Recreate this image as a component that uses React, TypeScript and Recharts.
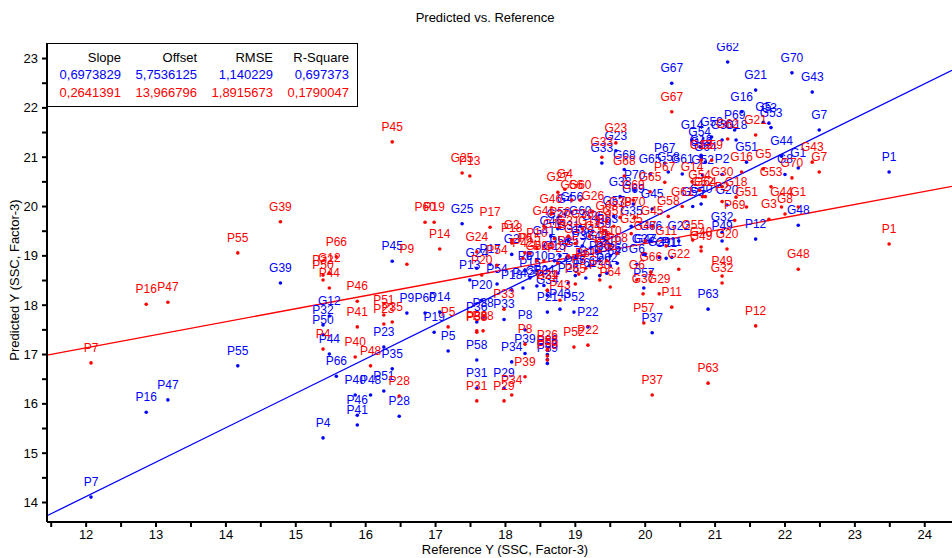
import React from "react";
import { ScatterChart, Scatter, XAxis, YAxis, ReferenceLine } from "recharts";

// sample names, reference values and the two model predictions
const names = [
  "P7", "P16", "P47", "P55", "G39", "P4", "P32", "P50", "G12", "P44", "P66", "P46", "P41", "P40", "P48",
  "P45", "P23", "P35", "P51", "P28", "P9", "P60", "P19", "P14", "P5", "G25", "P13", "P58", "P31", "P36",
  "P38", "P20", "P54", "P17", "G24", "P33", "P29", "P34", "P39", "P8", "P18", "G2", "P6", "G50", "P26",
  "P53", "P59", "P21", "P43", "P52", "P22", "P57", "P37", "P63", "P12", "G48", "P1", "P11", "G22", "G32",
  "P49", "G55", "G49", "G3", "G8", "G1", "G44", "G62", "G70", "G67", "G43", "G7", "G21", "G16", "G5",
  "G53", "P69", "P2", "G52", "G61", "G58", "G65", "P67", "P70", "G69", "G23", "G33", "G68", "G38", "G40",
  "G20", "G18", "G51", "G30", "G13", "G59", "G14", "G54", "G64", "G45", "G66", "G6", "G37", "G29", "G47",
  "G27", "G4", "G56", "G60", "G46", "P56", "G26", "G31", "G36", "G41", "G42", "G9", "G10", "G11", "G15",
  "G17", "G19", "G28", "G34", "G35", "G57", "G63", "P3", "P30", "P64", "P65", "P10", "P15", "P24", "P25",
  "P27", "P42", "P61", "P62", "P68",
];

const referenceY = [
  12.07, 12.86, 13.17, 14.17, 14.78, 15.39, 15.39, 15.39, 15.48, 15.48, 15.58, 15.88, 15.88, 15.85, 16.07,
  16.38, 16.26, 16.38, 16.26, 16.48, 16.59, 16.85, 16.98, 17.06, 17.18, 17.38, 17.49, 17.59, 17.59, 17.59,
  17.68, 17.66, 17.88, 17.78, 17.59, 17.98, 17.98, 18.09, 18.28, 18.28, 18.09, 18.09, 18.28, 18.45, 18.6,
  18.6, 18.6, 18.6, 18.78, 18.98, 19.18, 19.98, 20.1, 20.9, 21.58, 22.19, 23.49, 20.38, 20.48, 21.1,
  21.1, 20.68, 20.8, 21.77, 22.0, 22.19, 21.95, 21.18, 22.1, 20.38, 22.39, 22.49, 21.58, 21.38, 21.69,
  21.8, 21.28, 21.1, 20.82, 20.53, 20.33, 20.07, 20.28, 19.85, 19.83, 19.58, 19.38, 19.7, 19.64, 20.8,
  21.17, 21.3, 21.45, 21.1, 20.8, 20.95, 20.67, 20.78, 20.86, 20.1, 20.08, 19.88, 19.97, 20.2, 20.0,
  18.75, 18.85, 18.95, 19.07, 18.65, 18.78, 19.25, 18.9, 19.1, 18.55, 19.3, 19.4, 19.5, 20.3, 18.7,
  19.0, 19.2, 19.35, 18.6, 19.8, 19.55, 19.45, 19.05, 19.35, 19.5, 19.0, 18.45, 18.35, 18.55, 18.9,
  18.75, 18.25, 19.15, 19.45, 19.6,
];

const predictedA = [
  14.11, 15.83, 16.08, 16.77, 18.45, 15.31, 17.6, 17.4, 17.78, 17.01, 16.56, 15.77, 15.57, 16.18, 16.18,
  18.89, 17.15, 16.71, 16.26, 15.75, 17.84, 17.84, 17.45, 17.86, 17.07, 19.65, 18.51, 16.89, 16.32, 17.66,
  17.75, 18.1, 18.43, 18.83, 18.75, 17.71, 16.32, 16.85, 17.02, 17.5, 18.31, 19.03, 18.7, 18.39, 17.0,
  16.9, 16.82, 17.86, 17.92, 17.86, 17.56, 18.35, 17.44, 17.92, 19.34, 19.62, 20.7, 18.97, 19.3, 19.48,
  19.3, 20.0, 21.0, 21.69, 20.65, 20.78, 21.02, 22.93, 22.71, 22.5, 22.32, 21.55, 22.36, 21.92, 21.71,
  21.6, 21.55, 20.65, 20.64, 20.66, 20.7, 20.66, 20.88, 20.33, 20.05, 21.13, 20.88, 20.75, 20.2, 20.05,
  20.03, 21.35, 20.9, 21.35, 21.04, 21.41, 21.35, 21.21, 20.9, 19.95, 19.3, 18.83, 19.03, 18.97, 19.03,
  19.55, 19.85, 19.89, 19.6, 19.4, 19.0, 19.5, 19.3, 19.2, 19.2, 19.1, 19.35, 19.0, 18.95, 18.9,
  18.95, 18.8, 18.6, 18.2, 19.6, 19.8, 19.45, 19.1, 18.9, 18.8, 18.6, 18.7, 18.55, 18.4, 18.45,
  18.65, 18.35, 18.55, 18.65, 18.85,
];

const predictedB = [
  16.83, 18.02, 18.06, 19.06, 19.69, 17.11, 18.61, 18.51, 18.65, 18.35, 18.98, 18.08, 17.56, 16.95, 16.77,
  21.31, 17.62, 17.66, 17.8, 16.16, 18.83, 19.68, 19.68, 19.14, 17.56, 20.68, 20.62, 17.45, 16.06, 17.48,
  17.48, 18.61, 18.81, 19.58, 19.08, 17.92, 16.06, 16.18, 16.55, 17.21, 19.26, 19.32, 19.06, 18.9, 17.09,
  16.97, 16.89, 18.3, 18.1, 17.15, 17.19, 17.64, 16.18, 16.42, 17.58, 18.73, 19.24, 17.96, 18.73, 18.45,
  18.59, 19.32, 19.1, 19.74, 19.85, 19.99, 19.99, 21.37, 20.58, 21.92, 20.9, 20.7, 21.45, 20.7, 20.76,
  20.4, 19.72, 20.1, 20.2, 20.0, 19.8, 20.3, 20.49, 19.78, 20.13, 21.29, 21.0, 20.62, 19.78, 19.18,
  19.14, 20.19, 19.99, 20.4, 20.94, 20.94, 20.5, 20.33, 20.2, 19.6, 18.67, 18.51, 18.23, 18.23, 19.3,
  20.29, 20.35, 20.13, 20.13, 19.85, 19.58, 19.9, 19.4, 19.55, 19.6, 19.3, 19.5, 19.2, 19.2, 19.35,
  19.25, 19.4, 19.1, 18.3, 19.45, 19.6, 19.7, 18.63, 18.51, 18.37, 18.43, 19.15, 19.05, 18.9, 19.0,
  18.85, 18.95, 18.75, 18.9, 19.05,
];

// fit statistics shown in the box
const fitA = { slope: 0.6973829, offset: 5.7536125, rmse: 1.140229, r2: 0.697373 };
const fitB = { slope: 0.2641391, offset: 13.966796, rmse: 1.8915673, r2: 0.1790047 };

const xTicks = [11.5, 12, 12.5, 13, 13.5, 14, 14.5, 15, 15.5, 16, 16.5, 17, 17.5, 18, 18.5, 19, 19.5, 20, 20.5, 21, 21.5, 22, 22.5, 23, 23.5, 24];
const yTicks = [14, 14.5, 15, 15.5, 16, 16.5, 17, 17.5, 18, 18.5, 19, 19.5, 20, 20.5, 21, 21.5, 22, 22.5, 23];

const X_MIN = 11.44;
const X_MAX = 24.39;
const BLUE = "#0000ff";
const RED = "#ff0000";
const FONT = "'Liberation Sans', Arial, sans-serif";

const seriesA = names.map((name, i) => ({ name, x: referenceY[i], y: predictedA[i] }));
const seriesB = names.map((name, i) => ({ name, x: referenceY[i], y: predictedB[i] }));

const intOnly = (v: number) => (Number.isInteger(v) ? String(v) : "");
const comma = (v: number) => String(v).replace(".", ",");

function labelledDot(color: string) {
  return (props: any) => {
    const { cx, cy, payload } = props;
    return (
      <g>
        <circle cx={cx} cy={cy} r={1.8} fill={color} />
        <text x={cx} y={cy - 11} textAnchor="middle" fontSize={12} fontFamily={FONT} fill={color}>
          {payload.name}
        </text>
      </g>
    );
  };
}

function fitSegment(f: { slope: number; offset: number }) {
  return [
    { x: X_MIN, y: f.slope * X_MIN + f.offset },
    { x: X_MAX, y: f.slope * X_MAX + f.offset },
  ];
}

function StatsBox() {
  const cols = [121, 197, 273, 349];
  const rows: { cells: string[]; color: string; top: number }[] = [
    { cells: ["Slope", "Offset", "RMSE", "R-Square"], color: "#000", top: 50 },
    { cells: [fitA.slope, fitA.offset, fitA.rmse, fitA.r2].map(comma), color: BLUE, top: 67 },
    { cells: [fitB.slope, fitB.offset, fitB.rmse, fitB.r2].map(comma), color: RED, top: 85 },
  ];
  return (
    <>
      <div
        style={{
          position: "absolute",
          left: 47,
          top: 43,
          width: 309,
          height: 62,
          border: "1px solid #000",
          background: "#fff",
        }}
      />
      {rows.map((r) =>
        r.cells.map((c, j) => (
          <div
            key={r.top + "-" + j}
            style={{
              position: "absolute",
              left: cols[j] - 100,
              width: 100,
              top: r.top,
              textAlign: "right",
              fontSize: 13,
              lineHeight: "16px",
              color: r.color,
              whiteSpace: "nowrap",
            }}
          >
            {c}
          </div>
        ))
      )}
    </>
  );
}

export default function App() {
  const tick = { fill: "#000", fontSize: 13, fontFamily: FONT };
  return (
    <div
      style={{
        position: "absolute",
        left: 0,
        top: 0,
        width: 952,
        height: 558,
        overflow: "hidden",
        background: "#fff",
        fontFamily: FONT,
      }}
    >
      <ScatterChart width={952} height={558} margin={{ top: 43, right: 0, bottom: 0, left: 7 }}>
        <XAxis
          type="number"
          dataKey="x"
          domain={[X_MIN, X_MAX]}
          ticks={xTicks}
          tickFormatter={intOnly}
          allowDataOverflow
          height={36}
          tick={tick}
          tickSize={5}
          tickMargin={3}
          axisLine={{ stroke: "#000", strokeWidth: 2 }}
          tickLine={{ stroke: "#000", strokeWidth: 2 }}
        />
        <YAxis
          type="number"
          dataKey="y"
          domain={[13.605, 23.315]}
          ticks={yTicks}
          tickFormatter={intOnly}
          allowDataOverflow
          width={40}
          tick={tick}
          tickSize={5}
          tickMargin={4}
          axisLine={{ stroke: "#000", strokeWidth: 2 }}
          tickLine={{ stroke: "#000", strokeWidth: 2 }}
        />
        <ReferenceLine segment={fitSegment(fitA)} stroke={BLUE} strokeWidth={1.3} ifOverflow="visible" />
        <ReferenceLine segment={fitSegment(fitB)} stroke={RED} strokeWidth={1.3} ifOverflow="visible" />
        <Scatter data={seriesA} fill={BLUE} shape={labelledDot(BLUE)} isAnimationActive={false} />
        <Scatter data={seriesB} fill={RED} shape={labelledDot(RED)} isAnimationActive={false} />
      </ScatterChart>

      <div
        style={{
          position: "absolute",
          left: 0,
          width: 970,
          top: 10,
          textAlign: "center",
          fontSize: 13,
          lineHeight: "16px",
          color: "#000",
        }}
      >
        Predicted vs. Reference
      </div>

      <StatsBox />

      <div
        style={{
          position: "absolute",
          left: 15 - 110,
          top: 280 - 8,
          width: 220,
          textAlign: "center",
          fontSize: 13,
          lineHeight: "16px",
          transform: "rotate(-90deg)",
          color: "#000",
        }}
      >
        Predicted Y (SSC, Factor-3)
      </div>
      <div
        style={{
          position: "absolute",
          left: 505 - 150,
          width: 300,
          top: 542,
          textAlign: "center",
          fontSize: 13,
          lineHeight: "16px",
          color: "#000",
        }}
      >
        Reference Y (SSC, Factor-3)
      </div>
    </div>
  );
}
